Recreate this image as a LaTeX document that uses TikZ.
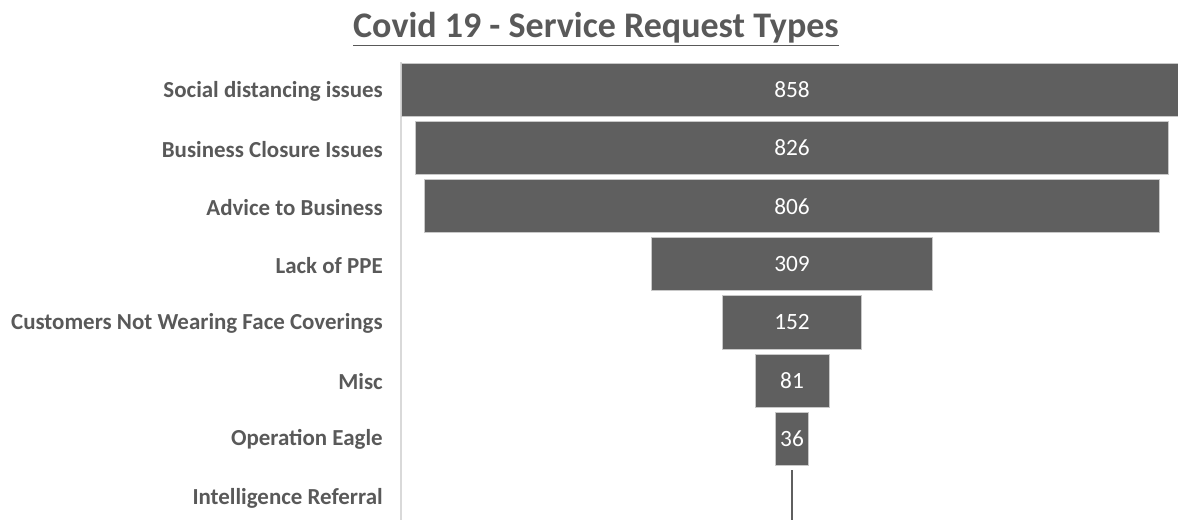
\documentclass[tikz,border=0pt]{standalone}
\usepackage{fontspec}
\setmainfont{Carlito}
\definecolor{bargray}{HTML}{5F5F5F}
\definecolor{barline}{HTML}{C8C8C8}
\definecolor{labelgray}{HTML}{595959}
\definecolor{axisgray}{HTML}{D9D9D9}
\begin{document}
\begin{tikzpicture}[x=0.75pt,y=-0.75pt,
  funnelbar/.style={draw=barline,line width=0.6pt,fill=bargray,inner sep=0pt,
    minimum height=53*0.75pt,text=white,font=\fontsize{17.5}{19}\selectfont},
  catlabel/.style={anchor=east,inner sep=0pt,text=labelgray,font=\fontsize{17.2}{19}\selectfont\bfseries},
  titletext/.style={inner sep=0pt,text=labelgray,font=\fontsize{27}{30}\selectfont\bfseries}]
\useasboundingbox (0,0) rectangle (1178,520);
\clip (0,0) rectangle (1178,520);
\node[titletext] (title) at (596,29) {\underline{Covid 19 - Service Request Types}};
\draw[axisgray,line width=1pt] (401,62) -- (401,520);
\def\cx{792}
\foreach \v/\lab/\i in {858/Social distancing issues/0,826/Business Closure Issues/1,806/Advice to Business/2,309/Lack of PPE/3,152/Customers Not Wearing Face Coverings/4,81/Misc/5,36/Operation Eagle/6}{
  \node[funnelbar,minimum width=\v*0.911*0.75pt] (bar\i) at (\cx,90+58.1*\i) {\v};
  \node[catlabel] (lab\i) at (383,91+58.1*\i) {\lab};
}
\node[catlabel] (lab7) at (383,498) {Intelligence Referral};
\coordinate (ref top) at (\cx,470);
\coordinate (ref bot) at (\cx,520);
\draw[bargray,line width=1.2pt] (ref top) -- (ref bot);
\end{tikzpicture}
\end{document}
